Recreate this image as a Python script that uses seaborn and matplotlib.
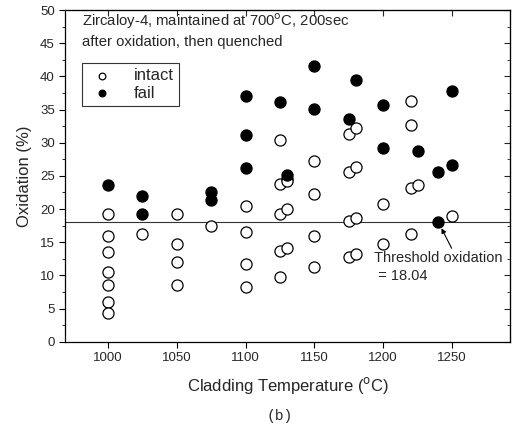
import pandas as pd
import matplotlib
matplotlib.use('Agg')
import matplotlib.pyplot as plt
import seaborn as sns
from matplotlib.ticker import MultipleLocator, NullLocator

# data
intact_temp = [1000, 1000, 1000, 1000, 1000, 1000, 1000,
               1025,
               1050, 1050, 1050, 1050,
               1075,
               1100, 1100, 1100, 1100,
               1125, 1125, 1125, 1125, 1125,
               1130, 1130, 1130, 1130,
               1150, 1150, 1150, 1150,
               1175, 1175, 1175, 1175,
               1180, 1180, 1180, 1180,
               1200, 1200,
               1220, 1220, 1220, 1220,
               1225,
               1250]
intact_ox = [19.2, 16.0, 13.5, 10.5, 8.5, 6.0, 4.3,
             16.2,
             19.2, 14.8, 12.0, 8.5,
             17.4,
             20.4, 16.6, 11.7, 8.3,
             30.4, 23.7, 19.3, 13.6, 9.7,
             24.5, 20.0, 14.1, 24.2,
             27.3, 22.3, 15.9, 11.2,
             31.3, 25.6, 18.2, 12.7,
             32.2, 26.3, 18.7, 13.2,
             20.7, 14.7,
             36.3, 32.6, 23.1, 16.3,
             23.6,
             18.9]
fail_temp = [1000, 1025, 1025, 1075, 1075, 1100, 1100, 1100, 1125, 1130,
             1150, 1150, 1175, 1180, 1200, 1200, 1225, 1240, 1240, 1250, 1250]
fail_ox = [23.6, 21.9, 19.2, 22.6, 21.4, 37.0, 31.1, 26.2, 36.1, 25.2,
           41.6, 35.1, 33.5, 39.5, 35.7, 29.2, 28.8, 25.6, 18.04, 37.8, 26.7]
threshold = 18.04

intact = pd.DataFrame({'temp': intact_temp, 'ox': intact_ox})
fail = pd.DataFrame({'temp': fail_temp, 'ox': fail_ox})

sns.set_style('ticks')
plt.rcParams['font.family'] = ['Liberation Sans', 'DejaVu Sans']

fig = plt.figure(figsize=(5.13, 4.28), dpi=100)
ax = fig.add_axes([0.127, 0.2016, 0.867, 0.775])

sns.scatterplot(data=intact, x='temp', y='ox', ax=ax, color='white', edgecolor='black',
                linewidth=0.9, s=64, label='intact', zorder=3)
sns.scatterplot(data=fail, x='temp', y='ox', ax=ax, color='black', edgecolor='black',
                linewidth=0.9, s=64, label='fail', zorder=3)
ax.axhline(threshold, color='#333333', lw=0.8, zorder=1)

ax.set_xlim(969, 1292)
ax.set_ylim(0, 50)
ax.xaxis.set_major_locator(MultipleLocator(50))
ax.xaxis.set_minor_locator(NullLocator())
ax.yaxis.set_major_locator(MultipleLocator(5))
ax.yaxis.set_minor_locator(MultipleLocator(2.5))
ax.tick_params(axis='both', which='major', labelsize=9.5, length=4, width=0.8,
               color='black', direction='out')
ax.tick_params(axis='both', which='minor', length=2, width=0.6, color='black', direction='out')
for sp in ax.spines.values():
    sp.set_color('black')
    sp.set_linewidth(0.9)

# top and right ticks point inward
top = ax.secondary_xaxis('top')
top.xaxis.set_major_locator(MultipleLocator(50))
top.tick_params(direction='in', length=4, width=0.8, labeltop=False)
right = ax.secondary_yaxis('right')
right.yaxis.set_major_locator(MultipleLocator(5))
right.yaxis.set_minor_locator(MultipleLocator(2.5))
right.tick_params(which='major', direction='in', length=4, width=0.8, labelright=False)
right.tick_params(which='minor', direction='in', length=2, width=0.6)

ax.set_xlabel('Cladding Temperature ($^{\\mathrm{o}}$C)', fontsize=12, labelpad=8)
ax.set_ylabel('Oxidation (%)', fontsize=12, labelpad=6)

ax.text(0.038, 0.94,
        'Zircaloy-4, maintained at 700$^{\\mathrm{o}}$C, 200sec\nafter oxidation, then quenched',
        transform=ax.transAxes, fontsize=10.7, va='center', ha='left', linespacing=1.35)

leg = ax.legend(loc='upper left', bbox_to_anchor=(0.038, 0.84), fontsize=12, markerscale=0.6,
                frameon=True, fancybox=False, borderaxespad=0, handletextpad=1.0,
                borderpad=0.3, labelspacing=0.15, handlelength=1.8)
leg.get_frame().set_edgecolor('black')
leg.get_frame().set_linewidth(0.8)

ax.annotate('Threshold oxidation\n = 18.04', xy=(1240, threshold), xytext=(1193, 13.6),
            fontsize=10.5, ha='left', va='top', linespacing=1.3,
            arrowprops=dict(arrowstyle='-|>', color='black', lw=0.8, mutation_scale=7,
                            shrinkA=0, shrinkB=5, relpos=(0.62, 1.0)))

fig.text(0.545, 0.028, '(b)', fontsize=10.5, ha='center', va='center', family='Liberation Mono')

fig.savefig('out.png', dpi=100, facecolor='white')
